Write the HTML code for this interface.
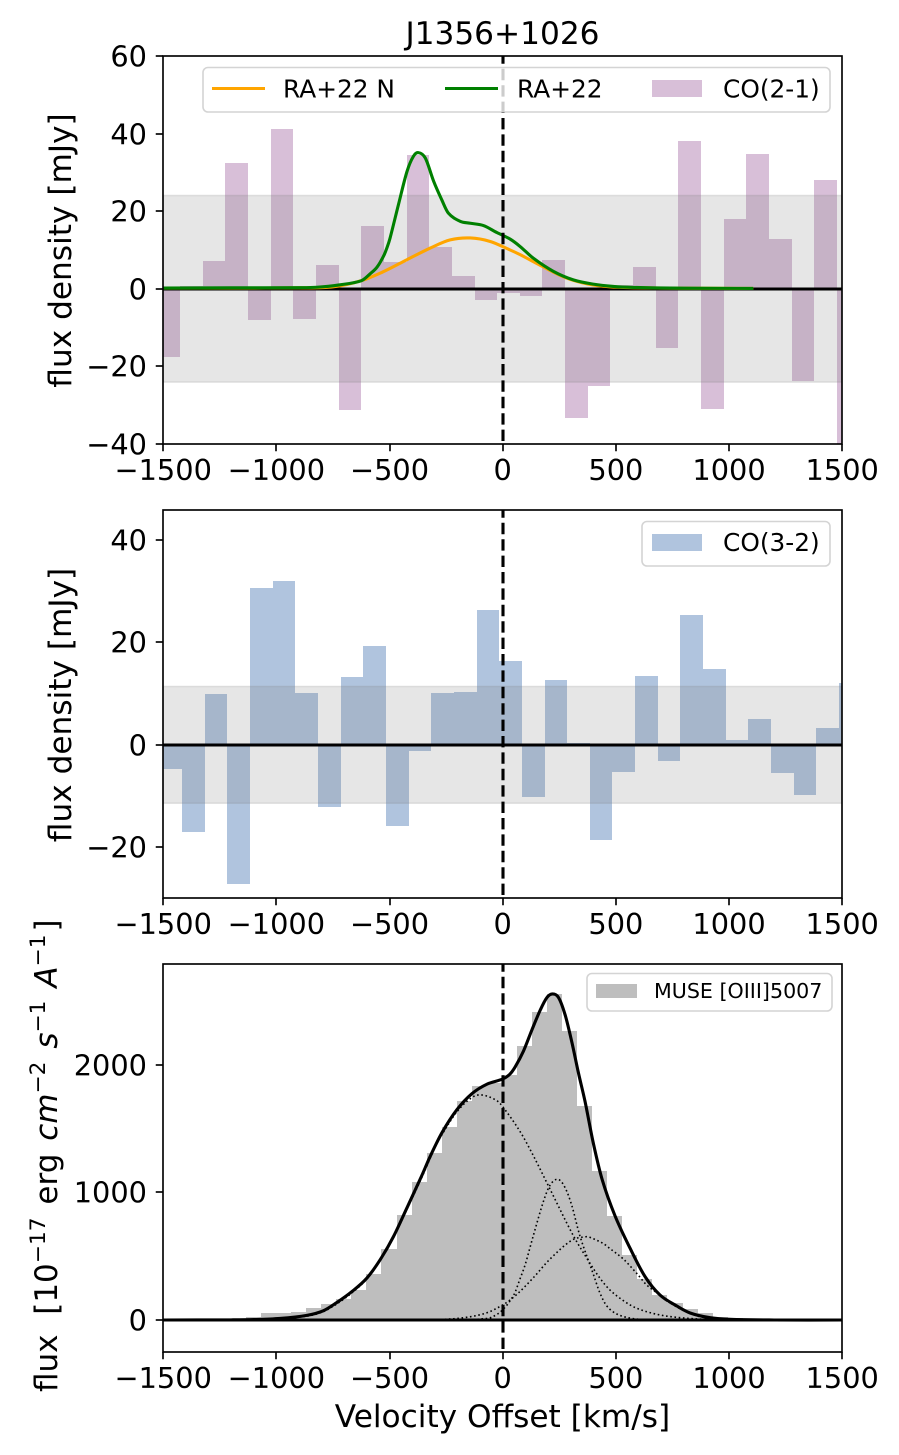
<!DOCTYPE html>
<html lang="en">
<head>
<meta charset="utf-8">
<title>J1356+1026</title>
<style>
html,body{margin:0;padding:0;background:#fff;}
svg{display:block;}
text{font-family:"DejaVu Sans","Liberation Sans",sans-serif;fill:#000;}
</style>
</head>
<body>
<svg id="fig" xmlns="http://www.w3.org/2000/svg" width="899" height="1455" viewBox="0 0 899 1455">
  <defs>
    <clipPath id="clip1"><rect x="163" y="56" width="679" height="388"/></clipPath>
    <clipPath id="clip2"><rect x="163" y="510" width="679" height="388"/></clipPath>
    <clipPath id="clip3"><rect x="163" y="964" width="679" height="388"/></clipPath>
  </defs>
  <rect x="0" y="0" width="899" height="1455" fill="#fff"/>

  <text x="502.5" y="44" text-anchor="middle" font-size="31.2">J1356+1026</text>

  <g id="panel1"></g>
  <g id="panel2"></g>
  <g id="panel3"></g>

  <text transform="translate(71,250.5) rotate(-90)" text-anchor="middle" font-size="31.2">flux density [mJy]</text>
  <text transform="translate(71,705) rotate(-90)" text-anchor="middle" font-size="31.2">flux density [mJy]</text>
  <text transform="translate(57,1392) rotate(-90)" font-size="31" xml:space="preserve">flux  [10<tspan dy="-12" font-size="21.7">−17</tspan><tspan dy="12" dx="3"> erg </tspan><tspan dx="3" font-style="italic">cm</tspan><tspan dy="-12" font-size="21.7">−2</tspan><tspan dy="12"> </tspan><tspan dx="3" font-style="italic">s</tspan><tspan dy="-12" font-size="21.7">−1</tspan><tspan dy="12"> </tspan><tspan dx="3" font-style="italic">A</tspan><tspan dy="-12" font-size="21.7">−1</tspan><tspan dy="12" dx="3">]</tspan></text>
  <text x="502.5" y="1427" text-anchor="middle" font-size="31.2">Velocity Offset [km/s]</text>

  <g>
    <rect x="203" y="67.5" width="627" height="44.5" rx="5" fill="#fff" fill-opacity="0.8" stroke="#ccc" stroke-opacity="0.85" stroke-width="1.6"/>
    <line x1="212" x2="265" y1="88.5" y2="88.5" stroke="#ffa500" stroke-width="3"/>
    <text x="283" y="97.3" font-size="24.8">RA+22 N</text>
    <line x1="445" x2="498" y1="88.5" y2="88.5" stroke="#008000" stroke-width="3"/>
    <text x="517" y="97.3" font-size="24.8">RA+22</text>
    <rect x="652" y="80" width="50" height="17" fill="#d8bfd8"/>
    <text x="723" y="97.3" font-size="24.8">CO(2-1)</text>
  </g>
  <g>
    <rect x="642" y="521.5" width="188" height="44.5" rx="5" fill="#fff" fill-opacity="0.8" stroke="#ccc" stroke-opacity="0.85" stroke-width="1.6"/>
    <rect x="652" y="534" width="50" height="17" fill="#b0c4de"/>
    <text x="723" y="551" font-size="24.8">CO(3-2)</text>
  </g>
  <g>
    <rect x="587" y="973.5" width="245" height="37.5" rx="5" fill="#fff" fill-opacity="0.8" stroke="#ccc" stroke-opacity="0.85" stroke-width="1.6"/>
    <rect x="596" y="984" width="41" height="14" fill="#bebebe"/>
    <text x="654" y="998" font-size="20.6">MUSE [OIII]5007</text>
  </g>
</svg>
<script>
// ---- data ----
const xTickValues = [-1500, -1000, -500, 0, 500, 1000, 1500];
const y1TickValues = [60, 40, 20, 0, -20, -40];
const y2TickValues = [40, 20, 0, -20];
const y3TickValues = [2000, 1000, 0];

const co21BinWidth = 100.1;
const co21Velocity = [-1475,-1374.9,-1274.8,-1174.7,-1074.6,-974.5,-874.4,-774.3,-674.2,-574.1,-474,-373.9,-273.8,-173.7,-73.6,26.5,126.6,226.7,326.8,426.9,527,627.1,727.2,827.3,927.4,1027.5,1127.6,1227.7,1327.8,1427.9,1528];
const co21Flux = [-17.5,0.7,7.2,32.5,-8,41.2,-7.7,6.2,-31.2,16.2,7,34.5,10.8,3.35,-2.8,-1,-1.8,7.5,-33.3,-25,1,5.7,-15.2,38.1,-31,18,34.8,12.9,-23.7,28.1,-45];
const co21Noise = 24.05;

const co32BinWidth = 100.1;
const co32Velocity = [-1466,-1365.9,-1265.8,-1165.7,-1065.6,-965.5,-865.4,-765.3,-665.2,-565.1,-465,-364.9,-264.8,-164.7,-64.6,35.5,135.6,235.7,335.8,435.9,536,636.1,736.2,836.3,936.4,1036.5,1136.6,1236.7,1336.8,1436.9,1537];
const co32Flux = [-4.7,-17,9.95,-27.1,30.6,32,10.15,-12.1,13.3,19.3,-15.8,-1.2,10.15,10.3,26.3,16.4,-10.15,12.7,0.4,-18.5,-5.3,13.5,-3.1,25.4,14.8,1,5.1,-5.5,-9.8,3.3,12.1];
const co32Noise = 11.4;

const oiiiBinWidth = 66.5;
const oiiiVelocity = [-1100,-1033.5,-967,-900.5,-834,-767.5,-701,-634.5,-568,-501.5,-435,-368.5,-302,-235.5,-169,-102.5,-36,30.5,97,163.5,230,296.5,363,429.5,496,562.5,629,695.5,762,828.5,895,961.5,1028,1094.5];
const oiiiFlux = [20,55,55,63,94,125,162,235,360,560,823,1082,1310,1514,1718,1835,1860,1920,2149,2416,2557,2267,1678,1169,816,510,322,196,131,84,52,20,15,10];

const ra22nVelocity = [-1500,-1200,-900,-750,-624,-524,-423,-320,-232,-143,-55,33,77,174,276,378,475,577,800,1107];
const ra22nFlux = [0.2,0.2,0.25,0.5,2.1,4.5,7.5,10.5,12.6,13.1,12.2,10,8.8,5.8,2.9,1.2,0.5,0.3,0.15,0.1];

const ra22Velocity = [-1500,-1200,-900,-822,-723,-624,-585,-555,-525,-510,-498,-461,-423,-395,-373,-342,-305,-269,-240,-188,-143,-85,-26,33,77,135,224,312,400,489,577,800,1107];
const ra22Flux = [0.2,0.25,0.3,0.4,1,2.1,3.9,5.6,8.6,10.8,13,21.6,30.2,34.1,35.1,33.7,27.7,22.9,19.5,17.4,16.9,16.3,14.5,12.8,10.9,7.9,4.5,2.3,1.2,0.6,0.35,0.15,0.1];

const totalVelocity = [-1500,-1200,-1100,-984,-866,-793,-734,-667,-601,-542,-483,-424,-358,-321,-268,-202,-136,-69,0,30,55,92,129,166,195,220,247,276,305,335,364,400,440,496,563,629,695,769,828,916,1004,1200,1500];
const totalFlux = [0,1,3,12,36,72,136,222,327,471,653,876,1130,1281,1470,1650,1775,1850,1890,1925,1985,2110,2275,2431,2528,2557,2528,2392,2183,1935,1712,1390,1098,818,562,340,196,110,55,18,5,0,0];

const comp1Velocity = [-1200,-1000,-866,-793,-734,-667,-601,-542,-483,-424,-358,-300,-268,-202,-136,-93,-30,0,76,135,208,311,386,430,474,533,592,680,768,900,1100];
const comp1Flux = [0,10,30,65,125,212,320,465,645,865,1115,1350,1455,1634,1745,1765,1725,1673,1480,1290,1030,665,444,327,235,152,92,45,21,5,0];

const comp2Velocity = [-300,-150,-87,-50,0,50,76,100,135,180,210,245,275,305,341,399,430,460,504,563,640,800];
const comp2Flux = [0,1,10,21,80,200,320,438,660,930,1060,1103,1040,900,660,366,210,110,47,15,1,0];

const comp3Velocity = [-500,-233,-87,0,62,135,208,305,371,386,444,474,533,592,636,695,754,828,901,1100];
const comp3Flux = [0,8,47,118,200,331,476,625,654,648,600,560,478,366,275,196,118,52,16,0];

// ---- axis functions ----
const NS = 'http://www.w3.org/2000/svg';
const xLeft = 163, xRight = 842, xMin = -1500, xMax = 1500;
function sx(v) { return xLeft + (v - xMin) * (xRight - xLeft) / (xMax - xMin) + 0.2; }
function makeY(top, bottom, vTop, vBottom) {
  return function (v) { return top + (vTop - v) * (bottom - top) / (vTop - vBottom); };
}
const sy1 = makeY(56, 444, 60, -40);
const sy2 = makeY(510, 898, 45.85, -29.9);
const sy3 = makeY(964, 1352, 2792, -251);

function mk(parent, tag, attrs) {
  const e = document.createElementNS(NS, tag);
  for (const k in attrs) e.setAttribute(k, attrs[k]);
  parent.appendChild(e);
  return e;
}
function smoothPath(xs, ys, sy) {
  const p = xs.map((v, i) => [sx(v), sy(ys[i])]);
  let d = 'M' + p[0][0].toFixed(2) + ' ' + p[0][1].toFixed(2);
  for (let i = 0; i < p.length - 1; i++) {
    const a = p[Math.max(i - 1, 0)], b = p[i], c = p[i + 1], e = p[Math.min(i + 2, p.length - 1)];
    const h = c[0] - b[0];
    const m1 = (c[1] - a[1]) / Math.max(c[0] - a[0], 0.01);
    const m2 = (e[1] - b[1]) / Math.max(e[0] - b[0], 0.01);
    d += 'C' + (b[0] + h / 3).toFixed(2) + ' ' + (b[1] + m1 * h / 3).toFixed(2) + ' ' +
         (c[0] - h / 3).toFixed(2) + ' ' + (c[1] - m2 * h / 3).toFixed(2) + ' ' +
         c[0].toFixed(2) + ' ' + c[1].toFixed(2);
  }
  return d;
}
function drawBars(g, xs, ys, width, sy, fill) {
  xs.forEach(function (v, i) {
    const x0 = Math.round(sx(v - width / 2) - 0.19), x1 = Math.round(sx(v + width / 2) - 0.19);
    const y0 = Math.round(sy(Math.max(ys[i], 0))), y1 = Math.round(sy(Math.min(ys[i], 0)));
    const r = mk(g, 'rect', { x: x0, y: y0, width: x1 - x0, height: y1 - y0, fill: fill, 'shape-rendering': 'crispEdges' });
    
    
  });
}
function drawBand(g, noise, sy) {
  const r = mk(g, 'rect', { x: xLeft, y: sy(noise), width: xRight - xLeft, height: sy(-noise) - sy(noise), fill: '#808080', 'fill-opacity': 0.2, stroke: '#808080', 'stroke-opacity': 0.2, 'stroke-width': 1.5 });
  
  
}
function drawZero(g, sy) {
  const l = mk(g, 'line', { x1: xLeft, x2: xRight, y1: Math.round(sy(0)), y2: Math.round(sy(0)), stroke: '#000', 'stroke-width': 3.1 });
  
  
}
function drawCentre(g, top, bottom) {
  const l = mk(g, 'line', { x1: Math.round(sx(0)), x2: Math.round(sx(0)), y1: bottom, y2: top, stroke: '#000', 'stroke-width': 3.1, 'stroke-dasharray': '11.4 5', 'stroke-dashoffset': 13.4 });
  
  
}
function drawFrame(g, top, bottom, sy, yTicks) {
  xTickValues.forEach(function (v) {
    const x = Math.round(sx(v));
    const t = mk(g, 'line', { x1: x, x2: x, y1: bottom, y2: bottom + 7.25, stroke: '#000', 'stroke-width': 1.66 });
    
    
    const lb = mk(g, 'text', { x: sx(v), y: bottom + 36, 'text-anchor': 'middle', 'font-size': 28.8 });
    
    
    lb.textContent = String(v).replace('-', '\u2212');
  });
  yTicks.forEach(function (v) {
    const y = Math.round(sy(v));
    const t = mk(g, 'line', { x1: xLeft - 7.25, x2: xLeft, y1: y, y2: y, stroke: '#000', 'stroke-width': 1.66 });
    
    
    const lb = mk(g, 'text', { x: 147, y: y + 10.5, 'text-anchor': 'end', 'font-size': 28.8 });
    
    
    lb.textContent = String(v).replace('-', '\u2212');
  });
  const s = mk(g, 'rect', { x: xLeft, y: top, width: xRight - xLeft, height: bottom - top, fill: 'none', stroke: '#000', 'stroke-width': 1.66 });
  
  
}
function drawCurve(g, xs, ys, sy, color, width, dash, name) {
  const attrs = { d: smoothPath(xs, ys, sy), fill: 'none', stroke: color, 'stroke-width': width, 'stroke-linejoin': 'round' };
  if (dash) attrs['stroke-dasharray'] = dash;
  const p = mk(g, 'path', attrs);
  
  
}

// ---- panel 1 ----
const g1 = document.getElementById('panel1');
const c1 = mk(g1, 'g', { 'clip-path': 'url(#clip1)' });


drawBars(c1, co21Velocity, co21Flux, co21BinWidth, sy1, '#d8bfd8');
drawBand(c1, co21Noise, sy1);
drawZero(c1, sy1);
drawCurve(c1, ra22nVelocity, ra22nFlux, sy1, '#ffa500', 3.1, null, 'ra22n-line');
drawCurve(c1, ra22Velocity, ra22Flux, sy1, '#008000', 3.1, null, 'ra22-line');
drawCentre(c1, 56, 444);
drawFrame(g1, 56, 444, sy1, y1TickValues);

// ---- panel 2 ----
const g2 = document.getElementById('panel2');
const c2 = mk(g2, 'g', { 'clip-path': 'url(#clip2)' });


drawBars(c2, co32Velocity, co32Flux, co32BinWidth, sy2, '#b0c4de');
drawBand(c2, co32Noise, sy2);
drawZero(c2, sy2);
drawCentre(c2, 510, 898);
drawFrame(g2, 510, 898, sy2, y2TickValues);

// ---- panel 3 ----
const g3 = document.getElementById('panel3');
const c3 = mk(g3, 'g', { 'clip-path': 'url(#clip3)' });


drawBars(c3, oiiiVelocity, oiiiFlux, oiiiBinWidth, sy3, '#bebebe');
drawCurve(c3, comp1Velocity, comp1Flux, sy3, '#000', 1.6, '1.6 2.64', 'gaussian-component-1');
drawCurve(c3, comp2Velocity, comp2Flux, sy3, '#000', 1.6, '1.6 2.64', 'gaussian-component-2');
drawCurve(c3, comp3Velocity, comp3Flux, sy3, '#000', 1.6, '1.6 2.64', 'gaussian-component-3');
drawZero(c3, sy3);
drawCurve(c3, totalVelocity, totalFlux, sy3, '#000', 3.1, null, 'total-fit-line');
drawCentre(c3, 964, 1352);
drawFrame(g3, 964, 1352, sy3, y3TickValues);
</script>
</body>
</html>
